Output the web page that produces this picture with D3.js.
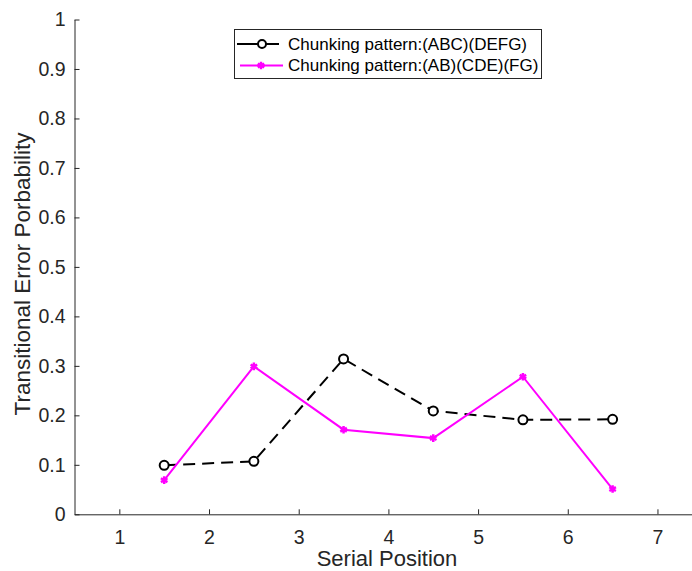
<!DOCTYPE html>
<html>
<head>
<meta charset="utf-8">
<script src="https://cdn.jsdelivr.net/npm/d3@7"></script>
<style>
  body { margin: 0; background: #fff; }
  svg { font-family: "Liberation Sans", Arial, sans-serif; }
</style>
</head>
<body>
<div id="chart"></div>
<script>
const positions = [1.5, 2.5, 3.5, 4.5, 5.5, 6.5];
const seriesNames = ["Chunking pattern:(ABC)(DEFG)", "Chunking pattern:(AB)(CDE)(FG)"];
const abcDefg = [0.099, 0.107, 0.314, 0.209, 0.191, 0.192];
const abCdeFg = [0.069, 0.299, 0.171, 0.154, 0.278, 0.051];
const xTicks = [1, 2, 3, 4, 5, 6, 7];
const yTicks = [0, 0.1, 0.2, 0.3, 0.4, 0.5, 0.6, 0.7, 0.8, 0.9, 1];

const width = 692, height = 571;
const svg = d3.select("#chart").append("svg")
  .attr("width", width)
  .attr("height", height);

const x = d3.scaleLinear().domain([0.5, 7.5]).range([74.5, 702.3]);
const y = d3.scaleLinear().domain([0, 1]).range([514.3, 19.5]);

const axisColor = "#262626";

// x axis (ticks point inward, matlab style)
const gx = svg.append("g")
  .attr("transform", `translate(0,${y(0)})`)
  .call(d3.axisBottom(x).tickValues(xTicks).tickFormat(d3.format("d")).tickSize(-5).tickPadding(16).tickSizeOuter(0));
gx.select(".domain").attr("stroke", axisColor).attr("stroke-width", 1);
gx.selectAll(".tick line").attr("stroke", axisColor);
gx.selectAll(".tick text").attr("fill", axisColor).attr("font-size", 19.5);

// y axis
const gy = svg.append("g")
  .attr("transform", `translate(${x(0.5)},0)`)
  .call(d3.axisLeft(y).tickValues(yTicks).tickFormat(d3.format("")).tickSize(-5).tickPadding(9).tickSizeOuter(0));
gy.select(".domain").attr("stroke", axisColor).attr("stroke-width", 1);
gy.selectAll(".tick line").attr("stroke", axisColor);
gy.selectAll(".tick text").attr("fill", axisColor).attr("font-size", 19.5);

// axis titles
svg.append("text")
  .attr("x", 387).attr("y", 566)
  .attr("text-anchor", "middle")
  .attr("font-size", 22)
  .attr("fill", axisColor)
  .text("Serial Position");

svg.append("text")
  .attr("transform", `translate(30,274) rotate(-90)`)
  .attr("text-anchor", "middle")
  .attr("font-size", 22.5)
  .attr("fill", axisColor)
  .text("Transitional Error Porbability");

const line = d3.line()
  .x((d, i) => x(positions[i]))
  .y(d => y(d));

// black dashed with circles
svg.append("path")
  .datum(abcDefg)
  .attr("d", line)
  .attr("fill", "none")
  .attr("stroke", "#000")
  .attr("stroke-width", 2)
  .attr("stroke-dasharray", "12,7");

svg.selectAll(".circ")
  .data(abcDefg)
  .enter().append("circle")
  .attr("cx", (d, i) => x(positions[i]))
  .attr("cy", d => y(d))
  .attr("r", 4.5)
  .attr("fill", "#fff")
  .attr("stroke", "#000")
  .attr("stroke-width", 2);

// magenta solid with asterisks
svg.append("path")
  .datum(abCdeFg)
  .attr("d", line)
  .attr("fill", "none")
  .attr("stroke", "#ff00ff")
  .attr("stroke-width", 2);

const star = d3.symbol().type(d3.symbolAsterisk).size(40);
svg.selectAll(".star")
  .data(abCdeFg)
  .enter().append("path")
  .attr("d", star)
  .attr("transform", (d, i) => `translate(${x(positions[i])},${y(d)})`)
  .attr("fill", "none")
  .attr("stroke", "#ff00ff")
  .attr("stroke-width", 2.5);

// legend
const lg = svg.append("g");
lg.append("rect")
  .attr("x", 234.5).attr("y", 29.5)
  .attr("width", 307).attr("height", 49)
  .attr("fill", "#fff")
  .attr("stroke", axisColor)
  .attr("stroke-width", 1);

const rows = [44, 65.5];
lg.append("line")
  .attr("x1", 237).attr("x2", 279).attr("y1", rows[0]).attr("y2", rows[0])
  .attr("stroke", "#000").attr("stroke-width", 2);
lg.append("circle")
  .attr("cx", 262).attr("cy", rows[0]).attr("r", 4)
  .attr("fill", "#fff").attr("stroke", "#000").attr("stroke-width", 2);
lg.append("line")
  .attr("x1", 240).attr("x2", 283).attr("y1", rows[1]).attr("y2", rows[1])
  .attr("stroke", "#ff00ff").attr("stroke-width", 2);
lg.append("path")
  .attr("d", star)
  .attr("transform", `translate(261,${rows[1]})`)
  .attr("fill", "none").attr("stroke", "#ff00ff").attr("stroke-width", 2.5);

lg.selectAll(".ltext")
  .data(seriesNames)
  .enter().append("text")
  .attr("x", 288)
  .attr("y", (d, i) => rows[i])
  .attr("dy", "0.35em")
  .attr("font-size", 17)
  .attr("fill", "#000")
  .text(d => d);
</script>
</body>
</html>
